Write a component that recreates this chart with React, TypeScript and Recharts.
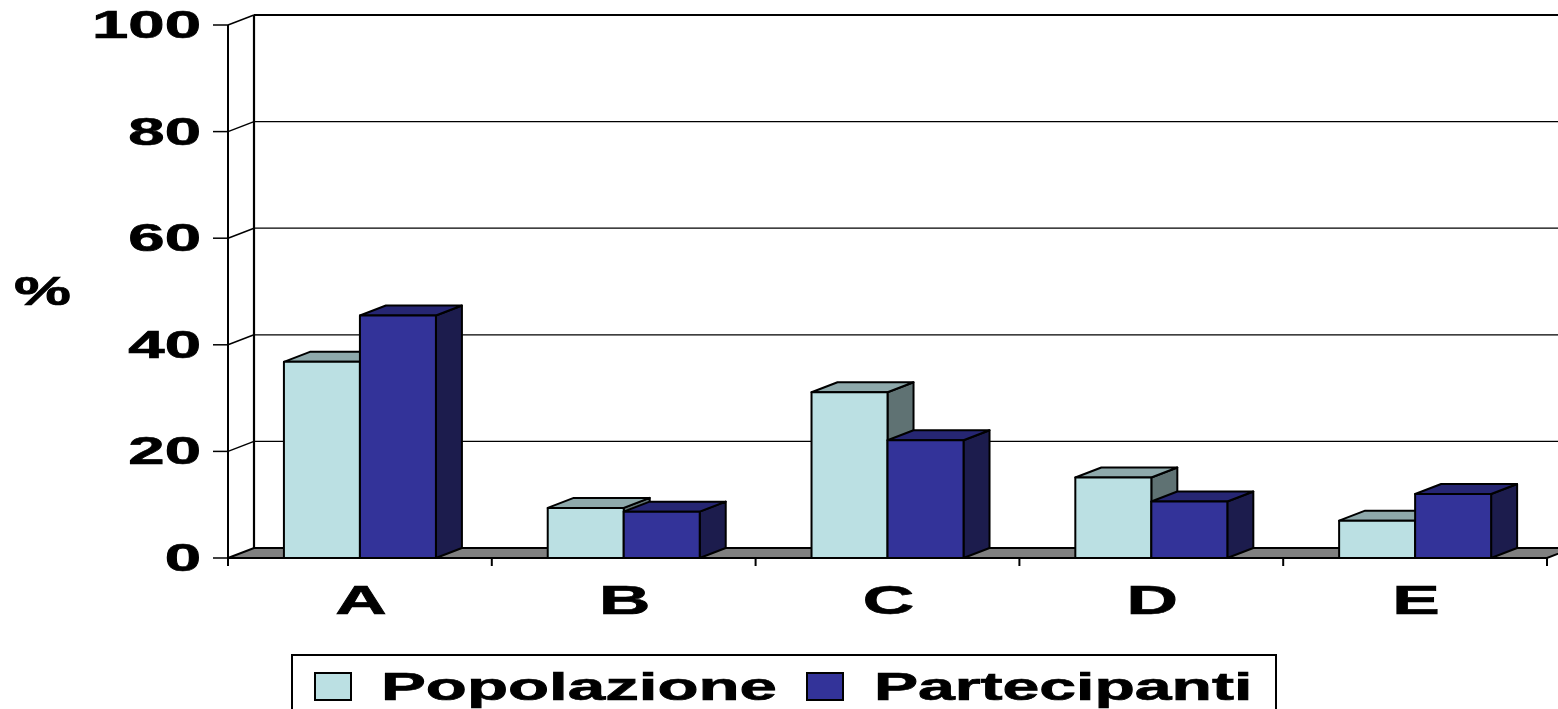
import React from 'react';
import { BarChart, Bar, XAxis, YAxis, CartesianGrid, Legend, Label } from 'recharts';

const categories = ['A', 'B', 'C', 'D', 'E'];
const popolazione = [36.8, 9.4, 31.1, 15.1, 7.0];
const partecipanti = [45.5, 8.7, 22.1, 10.6, 12.0];
const yTicks = [0, 20, 40, 60, 80, 100];
const seriesNames = ['Popolazione', 'Partecipanti'];
const yLabel = '%';

const data = categories.map((c, i) => ({ cat: c, pop: popolazione[i], part: partecipanti[i] }));

const DX = 26;
const DY = -10;
const FONT = '"Liberation Sans", Arial, sans-serif';
const SX = 1.72;
const TXT_STROKE = 0.7;

const POP = { front: '#BBE0E3', top: '#8EA9AB', side: '#5F7273' };
const PART = { front: '#333399', top: '#262673', side: '#1C1C4D' };

const make3D = (c: { front: string; top: string; side: string }) => (props: any) => {
  const { x, y, width, height } = props;
  if (x == null || height == null) return <g />;
  const x2 = x + width;
  const y2 = y + height;
  return (
    <g stroke="#000" strokeWidth={2} strokeLinejoin="round">
      <polygon points={`${x2},${y} ${x2 + DX},${y + DY} ${x2 + DX},${y2 + DY} ${x2},${y2}`} fill={c.side} />
      <polygon points={`${x},${y} ${x + DX},${y + DY} ${x2 + DX},${y + DY} ${x2},${y}`} fill={c.top} />
      <rect x={x} y={y} width={width} height={height} fill={c.front} />
    </g>
  );
};

const gridLine = (props: any) => {
  const { x1, y1, x2, y, height, index } = props;
  const bottom = y + height;
  const isTop = Math.abs(y1 - y) < 0.5;
  const isBottom = Math.abs(y1 - bottom) < 0.5;
  const n = categories.length;
  if (isBottom) {
    const ticks = [];
    for (let i = 0; i <= n; i++) {
      const tx = x1 + ((x2 - x1) * i) / n;
      ticks.push(<line key={i} x1={tx} y1={y1} x2={tx} y2={y1 + 8} stroke="#000" strokeWidth={2} />);
    }
    return (
      <g key={`gl-${index}`}>
        <polygon
          points={`${x1},${y1} ${x1 + DX},${y1 + DY} ${x2 + DX},${y1 + DY} ${x2},${y1}`}
          fill="#808080"
          stroke="#000"
          strokeWidth={2}
        />
        {ticks}
      </g>
    );
  }
  return (
    <g key={`gl-${index}`}>
      <line x1={x1 + DX} y1={y1 + DY} x2={x2 + DX + 20} y2={y1 + DY} stroke="#000" strokeWidth={isTop ? 2.2 : 1.3} />
      <line x1={x1} y1={y1} x2={x1 + DX} y2={y1 + DY} stroke="#000" strokeWidth={1.5} />
      {isTop ? (
        <line x1={x1 + DX} y1={y1 + DY} x2={x1 + DX} y2={bottom + DY} stroke="#000" strokeWidth={2.2} />
      ) : null}
    </g>
  );
};

const YTick = (props: any) => {
  const { x, y, payload } = props;
  return (
    <text
      transform={`translate(${x - 10},${y + 13}) scale(${SX},1)`}
      textAnchor="end"
      fontFamily={FONT}
      fontWeight="bold"
      fontSize={38}
      fill="#000"
      stroke="#000"
      strokeWidth={TXT_STROKE}
    >
      {payload.value}
    </text>
  );
};

const XTick = (props: any) => {
  const { x, payload } = props;
  return (
    <text
      transform={`translate(${x + 1},614) scale(1.78,1)`}
      textAnchor="middle"
      fontFamily={FONT}
      fontWeight="bold"
      fontSize={40}
      fill="#000"
      stroke="#000"
      strokeWidth={TXT_STROKE}
    >
      {payload.value}
    </text>
  );
};

const LegendContent = () => (
  <svg
    width={1558}
    height={709}
    style={{ position: 'absolute', left: 0, top: 0, overflow: 'visible', pointerEvents: 'none' }}
  >
    <rect x={292} y={655} width={984} height={80} fill="none" stroke="#000" strokeWidth={2} />
    <rect x={315} y={673} width={36} height={27} fill={POP.front} stroke="#000" strokeWidth={2} />
    <text
      transform={`translate(381,700) scale(1.77,1)`}
      fontFamily={FONT}
      fontWeight="bold"
      fontSize={38}
      fill="#000"
      stroke="#000"
      strokeWidth={TXT_STROKE}
    >
      {seriesNames[0]}
    </text>
    <rect x={807} y={673} width={36} height={27} fill={PART.front} stroke="#000" strokeWidth={2} />
    <text
      transform={`translate(874,700) scale(1.74,1)`}
      fontFamily={FONT}
      fontWeight="bold"
      fontSize={38}
      fill="#000"
      stroke="#000"
      strokeWidth={TXT_STROKE}
    >
      {seriesNames[1]}
    </text>
  </svg>
);

export default function App() {
  return (
    <div style={{ position: 'absolute', left: 0, top: 0, width: 1558, height: 709, background: '#fff' }}>
      <BarChart
        width={1558}
        height={709}
        data={data}
        margin={{ top: 25, right: 11, left: 0, bottom: 0 }}
        barGap={0}
        barCategoryGap="21.2%"
      >
        <CartesianGrid horizontal={gridLine} vertical={false} />
        <XAxis
          dataKey="cat"
          height={151}
          axisLine={{ stroke: '#000', strokeWidth: 2 }}
          tickLine={false}
          tick={<XTick />}
          interval={0}
        />
        <YAxis
          domain={[0, 100]}
          ticks={yTicks}
          width={228}
          axisLine={{ stroke: '#000', strokeWidth: 2 }}
          tickLine={{ stroke: '#000', strokeWidth: 1.5 }}
          tickSize={15}
          tick={<YTick />}
          interval={0}
        >
          <Label
            content={() => (
              <text
                transform={`translate(14,305) scale(1.6,1)`}
                fontFamily={FONT}
                fontWeight="bold"
                fontSize={40}
                fill="#000"
                stroke="#000"
                strokeWidth={TXT_STROKE}
              >
                {yLabel}
              </text>
            )}
          />
        </YAxis>
        <Legend content={<LegendContent />} wrapperStyle={{ left: 0, top: 0, width: 1558 }} />
        <Bar dataKey="pop" name={seriesNames[0]} shape={make3D(POP)} isAnimationActive={false} />
        <Bar dataKey="part" name={seriesNames[1]} shape={make3D(PART)} isAnimationActive={false} />
      </BarChart>
    </div>
  );
}
